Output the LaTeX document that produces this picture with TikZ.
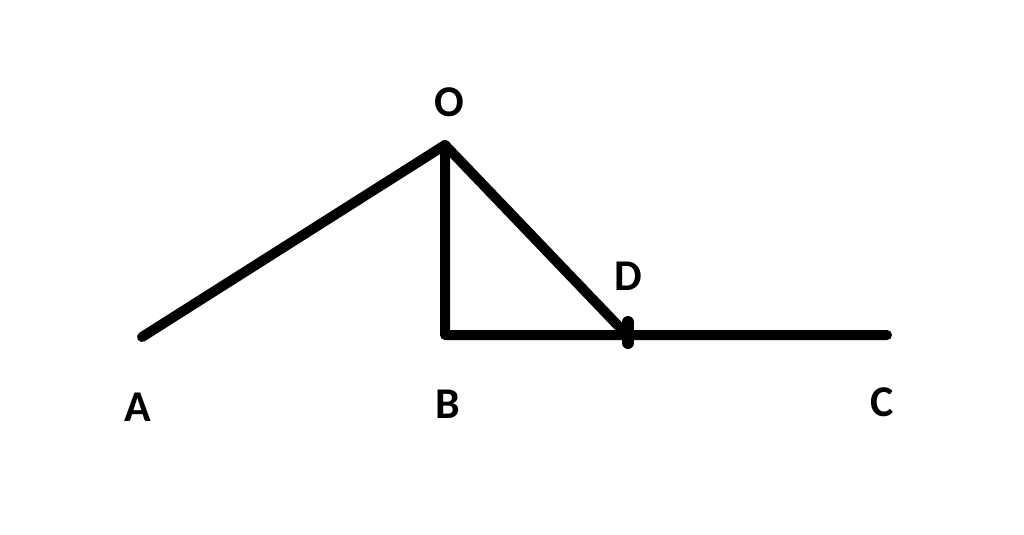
\documentclass[tikz,border=0pt]{standalone}
\usepackage{fontspec}
\setmainfont{Carlito}
\begin{document}
\begin{tikzpicture}[x=0.02cm,y=-0.02cm,
  seg/.style={line width=10*0.02cm, line cap=round, line join=round},
  lbl/.style={font=\bfseries\fontsize{25}{30}\selectfont, inner sep=0pt}]
\useasboundingbox (0,0) rectangle (1024,534);
\coordinate (A) at (142,337);
\coordinate (O) at (445,145);
\coordinate (B) at (445,335);
\coordinate (D) at (627,335);
\coordinate (C) at (887,335);
\coordinate (Dt) at (628,322);
\coordinate (Db) at (628,343);
\draw[seg] (A) -- (O) -- (B) -- (C);
\draw[seg] (O) -- (D);
\draw[line width=12*0.02cm, line cap=round] (Dt) -- (Db);
\node[lbl] (lO) at (449,102) {O};
\node[lbl] (lD) at (628,276) {D};
\node[lbl] (lA) at (138,407) {A};
\node[lbl] (lB) at (448,404) {B};
\node[lbl] (lC) at (882,402) {C};
\end{tikzpicture}
\end{document}
